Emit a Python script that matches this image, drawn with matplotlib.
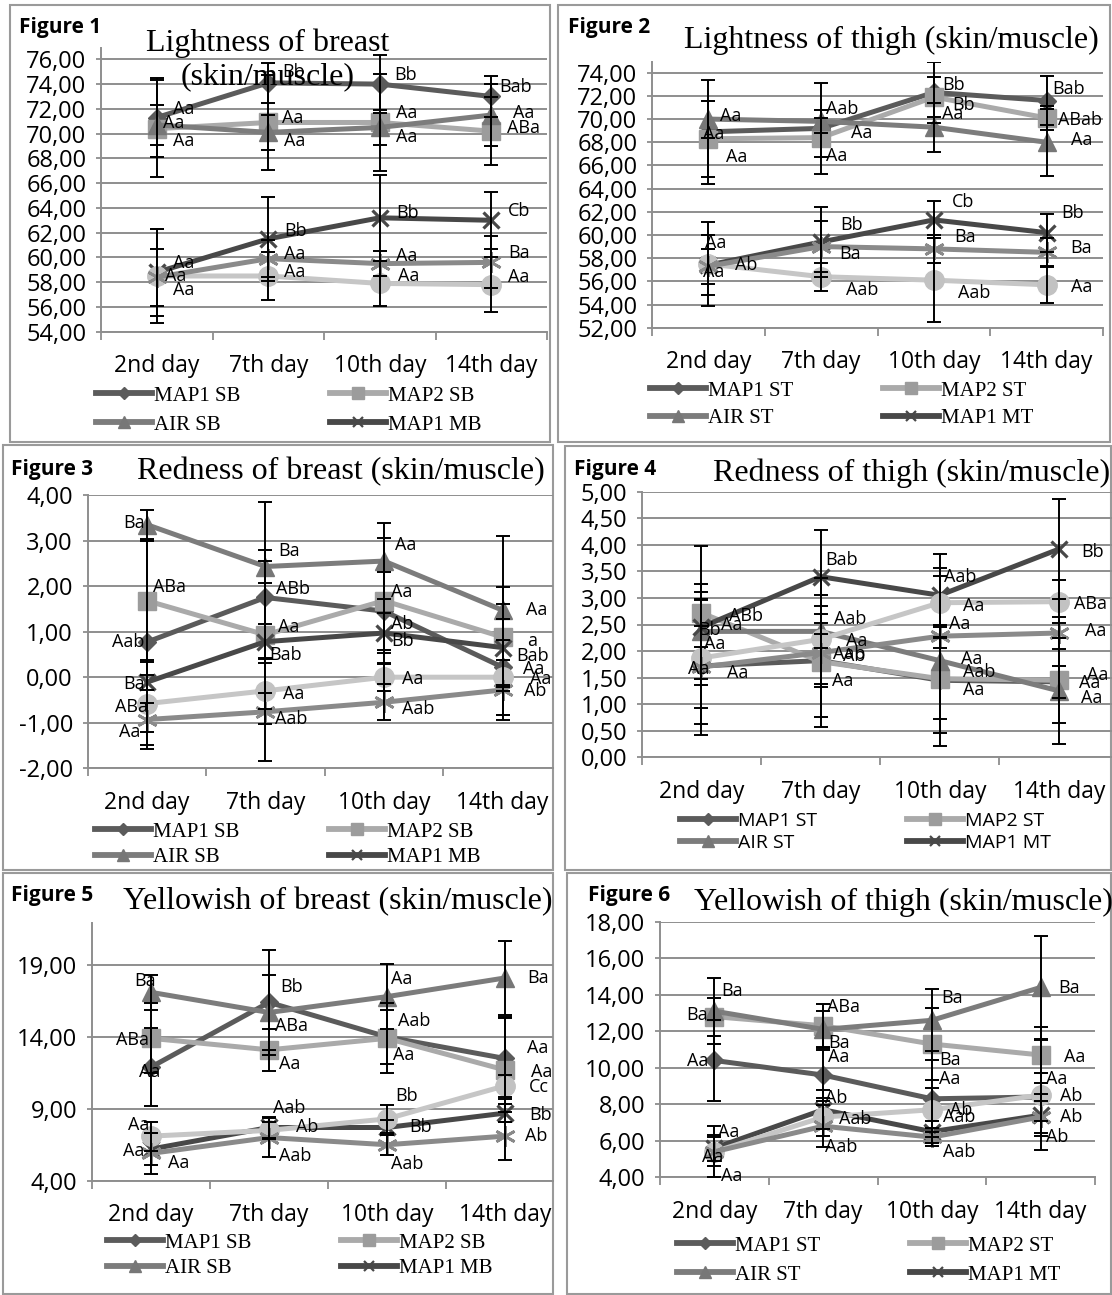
import matplotlib
matplotlib.use("Agg")
import matplotlib.pyplot as plt
from matplotlib.patches import Rectangle
from matplotlib.lines import Line2D
from matplotlib.ticker import FixedLocator, FuncFormatter, NullFormatter

W, H, DPI = 1112, 1295, 100

SANS = ["Open Sans", "DejaVu Sans"]
SERIF = ["Liberation Serif", "DejaVu Serif"]

days = ["2nd day", "7th day", "10th day", "14th day"]

# series order: MAP1 skin, MAP2 skin, AIR skin, MAP1 muscle, MAP2 muscle, AIR muscle
breast_series = ["MAP1 SB", "MAP2 SB", "AIR SB", "MAP1 MB", "MAP2 MB", "AIR MB"]
thigh_series = ["MAP1 ST", "MAP2 ST", "AIR ST", "MAP1 MT", "MAP2 MT", "AIR MT"]

# ---- Figure 1: lightness of breast ----
f1_mean = [[71.3, 74.1, 74.0, 73.0],
           [70.4, 70.9, 70.9, 70.2],
           [70.7, 70.1, 70.5, 71.5],
           [58.8, 61.5, 63.2, 63.0],
           [58.5, 58.5, 57.9, 57.8],
           [58.4, 59.9, 59.5, 59.6]]
f1_sd = [[3.2, 1.6, 2.35, 1.65],
         [3.9, 3.8, 3.9, 2.75],
         [1.6, 1.4, 1.4, 2.5],
         [3.5, 3.4, 3.45, 2.3],
         [3.8, 1.9, 1.8, 2.2],
         [2.3, 1.5, 1.0, 2.1]]
f1_letters = [["Aa", "Bb", "Bb", "Bab"],
              ["Aa", "Aa", "Aa", "ABa"],
              ["Aa", "Aa", "Aa", "Aa"],
              ["Aa", "Bb", "Bb", "Cb"],
              ["Aa", "Aa", "Aa", "Aa"],
              ["Aa", "Aa", "Aa", "Ba"]]

# ---- Figure 2: lightness of thigh ----
f2_mean = [[68.9, 69.2, 72.3, 71.6],
           [68.3, 68.4, 71.9, 70.1],
           [70.0, 69.8, 69.3, 68.0],
           [57.4, 59.4, 61.3, 60.2],
           [57.5, 56.4, 56.1, 55.7],
           [57.3, 59.0, 58.8, 58.5]]
f2_sd = [[4.5, 3.9, 2.6, 2.1],
         [3.3, 1.7, 1.75, 1.0],
         [1.6, 1.0, 2.1, 2.9],
         [2.6, 3.0, 1.6, 1.65],
         [3.6, 1.2, 3.6, 1.6],
         [1.5, 2.2, 1.2, 1.25]]
f2_letters = [["Aa", "Aa", "Bb", "Bab"],
              ["Aa", "Aa", "Bb", "ABab"],
              ["Aa", "Aab", "Aa", "Aa"],
              ["Aa", "Bb", "Cb", "Bb"],
              ["Ab", "Aab", "Aab", "Aa"],
              ["Aa", "Ba", "Ba", "Ba"]]

# ---- Figure 3: redness of breast ----
f3_mean = [[0.77, 1.75, 1.45, 0.22],
           [1.68, 0.93, 1.68, 0.88],
           [3.35, 2.43, 2.55, 1.47],
           [-0.11, 0.78, 0.97, 0.65],
           [-0.58, -0.30, 0.00, 0.00],
           [-0.93, -0.76, -0.55, -0.28]]
f3_sd = [[2.25, 2.10, 0.85, 1.06],
         [1.30, 1.62, 1.37, 1.10],
         [0.32, 0.37, 0.83, 1.64],
         [0.45, 0.38, 0.44, 0.95],
         [0.62, 0.72, 0.30, 0.82],
         [0.64, 1.08, 0.39, 0.66]]
f3_letters = [["Aab", "ABb", "Ab", "Aa"],
              ["ABa", "Aa", "Aa", "a"],
              ["Ba", "Ba", "Aa", "Aa"],
              ["Ba", "Bab", "Bb", "Bab"],
              ["ABa", "Aa", "Aa", "Aa"],
              ["Aa", "Aab", "Aab", "Ab"]]

# ---- Figure 4: redness of thigh ----
f4_mean = [[1.72, 1.82, 1.45, 1.42],
           [2.72, 1.80, 1.48, 1.45],
           [2.37, 2.37, 1.82, 1.25],
           [2.45, 3.40, 3.05, 3.92],
           [1.87, 2.22, 2.91, 2.93],
           [1.70, 1.97, 2.28, 2.34]]
f4_sd = [[0.35, 0.50, 1.00, 0.30],
         [0.25, 1.04, 0.76, 0.80],
         [0.90, 0.32, 1.60, 1.00],
         [1.52, 0.87, 0.78, 0.94],
         [1.25, 0.84, 0.65, 0.41],
         [1.28, 1.40, 0.22, 0.31]]
f4_letters = [["Aa", "Ab", "Aab", "Aa"],
              ["ABb", "Aa", "Aa", "Aa"],
              ["Aa", "Aab", "Aa", "Aa"],
              ["Bb", "Bab", "Aab", "Bb"],
              ["Aa", "Aa", "Aa", "ABa"],
              ["Aa", "Aab", "Aa", "Aa"]]

# ---- Figure 5: yellowness of breast ----
f5_mean = [[11.9, 16.4, 14.0, 12.5],
           [13.9, 13.1, 13.9, 11.7],
           [17.1, 15.7, 16.8, 18.1],
           [6.2, 7.7, 7.7, 8.7],
           [7.1, 7.5, 8.3, 10.6],
           [5.9, 7.0, 6.5, 7.1]]
f5_sd = [[2.7, 3.64, 1.87, 2.85],
         [2.43, 1.47, 2.44, 3.6],
         [1.2, 2.6, 2.25, 2.6],
         [1.1, 0.7, 0.5, 0.6],
         [1.0, 0.6, 0.96, 0.75],
         [1.44, 1.38, 0.7, 1.66]]
f5_letters = [["Aa", "Bb", "Aab", "Aa"],
              ["ABa", "Aa", "Aa", "Aa"],
              ["Ba", "ABa", "Aa", "Ba"],
              ["Aa", "Aab", "Bb", "Bb"],
              ["Aa", "Ab", "Bb", "Cc"],
              ["Aa", "Aab", "Aab", "Ab"]]

# ---- Figure 6: yellowness of thigh ----
f6_mean = [[10.4, 9.6, 8.3, 8.4],
           [12.8, 12.3, 11.3, 10.7],
           [13.1, 12.1, 12.6, 14.4],
           [5.6, 7.7, 6.5, 7.4],
           [5.4, 7.3, 7.7, 8.5],
           [5.4, 6.8, 6.2, 7.3]]
f6_sd = [[2.2, 1.4, 2.1, 1.3],
         [1.04, 1.17, 1.96, 1.55],
         [1.8, 1.0, 1.7, 2.8],
         [0.72, 1.08, 0.6, 1.15],
         [1.4, 1.03, 1.2, 3.0],
         [0.8, 1.15, 0.5, 0.9]]
f6_letters = [["Aa", "Aa", "Aa", "Aa"],
              ["Ba", "ABa", "Ba", "Aa"],
              ["Ba", "Ba", "Ba", "Ba"],
              ["Aa", "Ab", "Aab", "Ab"],
              ["Aa", "Aab", "Ab", "Ab"],
              ["Aa", "Aab", "Aab", "Ab"]]

# ---- layout: letter offsets (pixels right, pixels down) per series/day ----
f1_offsets = [[(16, -9), (14, -11), (14, -9), (8, -9)],
              [(16, 12), (14, -4), (16, -9), (16, -3)],
              [(6, -2), (16, 9), (16, 10), (22, -2)],
              [(16, -9), (16, -8), (16, -5), (17, -9)],
              [(8, 0), (16, -4), (18, -7), (17, -8)],
              [(16, 13), (16, -5), (16, -8), (17, -9)]]
f2_offsets = [[(-5, 2), (30, 5), (8, -7), (6, -12)],
              [(18, 18), (5, 18), (18, 8), (11, 2)],
              [(12, -3), (5, -12), (8, -13), (24, -2)],
              [(-3, -22), (19, -17), (18, -18), (15, -20)],
              [(27, 1), (25, 13), (24, 13), (24, 2)],
              [(-5, 6), (18, 7), (20, -12), (24, -4)]]
f3_offsets = [[(-35, 0), (11, -8), (7, 13), (20, 2)],
              [(6, -14), (13, -8), (7, -9), (25, 4)],
              [(-24, -2), (13, -16), (11, -16), (23, 0)],
              [(-24, 2), (4, 13), (7, 8), (14, 8)],
              [(-32, 3), (18, 3), (18, 2), (27, 2)],
              [(-28, 12), (10, 7), (18, 7), (21, 1)]]
f4_offsets = [[(-13, 3), (22, -5), (23, -8), (28, -7)],
              [(28, 3), (11, 19), (23, 11), (20, 3)],
              [(20, -6), (13, -12), (21, -2), (22, 7)],
              [(-3, 3), (5, -17), (4, -18), (22, 3)],
              [(3, -14), (25, 2), (23, 3), (15, 2)],
              [(26, 6), (12, 1), (9, -12), (26, -2)]]
f5_offsets = [[(-12, 5), (11, -15), (11, -16), (22, -10)],
              [(-35, 2), (10, 14), (6, 17), (26, 2)],
              [(-17, -11), (6, 14), (4, -18), (22, 0)],
              [(-28, 2), (4, -19), (22, 0), (24, 2)],
              [(-23, -11), (27, -3), (8, -23), (24, 1)],
              [(17, 10), (10, 18), (4, 19), (20, 0)]]
f6_offsets = [[(-27, 1), (5, -18), (7, -20), (5, -18)],
              [(-28, -2), (4, -19), (7, 16), (23, 2)],
              [(7, -20), (5, 14), (9, -22), (18, 1)],
              [(4, -16), (2, -12), (11, -15), (19, 2)],
              [(-12, 5), (16, 2), (18, 0), (19, 1)],
              [(7, 24), (2, 21), (11, 15), (5, 20)]]

# ---- series styling ----
STYLES = [
    dict(color="#5b5b5b", marker="D", ms=9.5, mfc="#5b5b5b", mec="#5b5b5b", mew=1),
    dict(color="#aaaaaa", marker="s", ms=12.5, mfc="#9c9c9c", mec="#9c9c9c", mew=1),
    dict(color="#7c7c7c", marker="^", ms=12.5, mfc="#777777", mec="#777777", mew=1),
    dict(color="#484848", marker="x", ms=12, mfc="#484848", mec="#484848", mew=2.3),
    dict(color="#c6c6c6", marker="o", ms=14, mfc="#c2c2c2", mec="#c2c2c2", mew=1),
    dict(color="#8a8a8a", marker=(6, 2, 0), ms=15, mfc="#8a8a8a", mec="#8a8a8a", mew=2.0),
]
GRID = "#8e8e8e"


def fig_rect(left, right, top, bottom):
    return [left / W, 1 - bottom / H, (right - left) / W, (bottom - top) / H]


def comma_fmt(v, _pos):
    return f"{v:.2f}".replace(".", ",")


fig = plt.figure(figsize=(W / DPI, H / DPI), dpi=DPI)
fig.patch.set_facecolor("white")

panels = [
    dict(num=1, mean=f1_mean, sd=f1_sd, letters=f1_letters, offs=f1_offsets,
         names=breast_series, box=(101, 547, 48.2, 331.7), ylim=(54, 76.9),
         yticks=list(range(54, 77, 2)), xmax=3.5,
         title="Lightness of breast\n(skin/muscle)", title_xy=(268, 60),
         figlabel_xy=(19, 28), legend_xy=(96, 386), legend_font=SERIF, lsp=0.45),
    dict(num=2, mean=f2_mean, sd=f2_sd, letters=f2_letters, offs=f2_offsets,
         names=thigh_series, box=(652, 1103, 61.7, 327.7), ylim=(52, 74.95),
         yticks=list(range(52, 75, 2)), xmax=3.5,
         title="Lightness of thigh (skin/muscle)", title_xy=(891, 40),
         figlabel_xy=(568, 28), legend_xy=(650, 381), legend_font=SERIF, lsp=0.4),
    dict(num=3, mean=f3_mean, sd=f3_sd, letters=f3_letters, offs=f3_offsets,
         names=breast_series, box=(87.5, 553, 495, 768.3), ylim=(-2, 4),
         yticks=[-2, -1, 0, 1, 2, 3, 4], xmax=3.425,
         title="Redness of breast (skin/muscle)", title_xy=(341, 472),
         figlabel_xy=(11, 469), legend_xy=(95, 822), legend_font=SERIF, lsp=0.3),
    dict(num=4, mean=f4_mean, sd=f4_sd, letters=f4_letters, offs=f4_offsets,
         names=thigh_series, box=(641.8, 1112, 491.7, 757.3), ylim=(0, 5),
         yticks=[0, 0.5, 1, 1.5, 2, 2.5, 3, 3.5, 4, 4.5, 5], xmax=3.445,
         title="Redness of thigh (skin/muscle)", title_xy=(912, 473),
         figlabel_xy=(574, 469), legend_xy=(680, 812), legend_font=SANS, lsp=0.2),
    dict(num=5, mean=f5_mean, sd=f5_sd, letters=f5_letters, offs=f5_offsets,
         names=breast_series, box=(92, 553, 923.3, 1180.7), ylim=(4, 21.9),
         yticks=[4, 9, 14, 19], xmax=3.407,
         title="Yellowish of breast (skin/muscle)", title_xy=(338, 902),
         figlabel_xy=(11, 896), legend_xy=(107, 1233), legend_font=SERIF, lsp=0.3),
    dict(num=6, mean=f6_mean, sd=f6_sd, letters=f6_letters, offs=f6_offsets,
         names=thigh_series, box=(660, 1095, 921.7, 1177.3), ylim=(4, 18),
         yticks=[4, 6, 8, 10, 12, 14, 16, 18], xmax=3.5,
         title="Yellowish of thigh (skin/muscle)", title_xy=(903, 902),
         figlabel_xy=(588, 895), legend_xy=(677, 1236), legend_font=SERIF, lsp=0.45),
]

x = list(range(len(days)))

for p in panels:
    ax = fig.add_axes(fig_rect(*p["box"]))
    ax.set_facecolor("none")
    ax.set_xlim(-0.5, p["xmax"])
    ax.set_ylim(*p["ylim"])

    # gridlines and axes
    ax.set_axisbelow(True)
    ax.yaxis.set_major_locator(FixedLocator(p["yticks"]))
    ax.yaxis.set_major_formatter(FuncFormatter(comma_fmt))
    ax.yaxis.grid(True, color=GRID, lw=1.4)
    for side in ("top", "right"):
        ax.spines[side].set_visible(False)
    for side in ("left", "bottom"):
        ax.spines[side].set_color(GRID)
        ax.spines[side].set_linewidth(1.4)
    ax.tick_params(axis="y", which="major", direction="out", length=3.5, width=1.3,
                   color=GRID, pad=7, labelsize=17, labelcolor="black")
    bounds = [b - 0.5 for b in range(len(days) + 1) if b - 0.5 <= p["xmax"] + 1e-6]
    ax.xaxis.set_major_locator(FixedLocator(bounds))
    ax.xaxis.set_major_formatter(NullFormatter())
    ax.xaxis.set_minor_locator(FixedLocator(x))
    ax.set_xticklabels(days, minor=True)
    ax.tick_params(axis="x", which="major", direction="out", length=6, width=1.3, color=GRID)
    ax.tick_params(axis="x", which="minor", length=0, pad=16, labelsize=16.5)
    for lab in ax.get_yticklabels() + ax.get_xticklabels(minor=True):
        lab.set_family(SANS)

    handles = []
    for i, name in enumerate(p["names"]):
        st = STYLES[i]
        ax.plot(x, p["mean"][i], color=st["color"], lw=3.6, marker=st["marker"],
                ms=st["ms"], mfc=st["mfc"], mec=st["mec"], mew=st["mew"],
                zorder=3 + i * 0.01, label=name, solid_joinstyle="round")
        ax.errorbar(x, p["mean"][i], yerr=p["sd"][i], fmt="none", ecolor="black",
                    elinewidth=1.4, capsize=5, capthick=1.4, zorder=4)
        for j in x:
            dx, dy = p["offs"][i][j]
            ax.annotate(p["letters"][i][j], (j, p["mean"][i][j]), xytext=(dx, -dy),
                        textcoords="offset pixels", ha="left", va="center",
                        fontsize=13, family=SANS, zorder=6, annotation_clip=False)
        handles.append(Line2D([], [], color=st["color"], lw=4.2, marker=st["marker"],
                              ms=st["ms"] * 0.65, mfc=st["mfc"], mec=st["mec"],
                              mew=max(1.0, st["mew"] * 0.7)))

    # legend shows the first four series, two per row
    order = [0, 2, 1, 3]
    lfs = 15 if p["legend_font"] is SERIF else 14
    fs_px = lfs * DPI / 72
    lx, ly = p["legend_xy"]
    ax.legend([handles[k] for k in order], [p["names"][k] for k in order],
              ncol=2, loc="upper left", bbox_to_anchor=(lx / W, 1 - ly / H),
              bbox_transform=fig.transFigure, frameon=False,
              prop=dict(family=p["legend_font"], size=lfs),
              handlelength=56 / fs_px, handletextpad=2 / fs_px,
              columnspacing=90 / fs_px, labelspacing=p["lsp"], borderpad=0,
              borderaxespad=0)

    tx, ty = p["title_xy"]
    fig.text(tx / W, 1 - ty / H, p["title"], ha="center", va="center",
             family=SERIF, fontsize=23, linespacing=1.22, zorder=10)
    fx, fy = p["figlabel_xy"]
    fig.text(fx / W, 1 - fy / H, f"Figure {p['num']}", ha="left", va="center",
             family=SANS, fontsize=15, fontweight="bold", zorder=10)

# panel frames
frames = [(10, 5, 550, 442), (558, 5, 1110, 442), (3, 445, 553, 870),
          (565, 446, 1111, 870), (3, 873, 553, 1294), (567, 873, 1111, 1294)]
for (x0, y0, x1, y1) in frames:
    fig.add_artist(Rectangle((x0 / W, 1 - y1 / H), (x1 - x0) / W, (y1 - y0) / H,
                             transform=fig.transFigure, fill=False, ec="#9a9a9a",
                             lw=1.5, zorder=0))

fig.savefig("out.png", dpi=DPI, facecolor="white")
